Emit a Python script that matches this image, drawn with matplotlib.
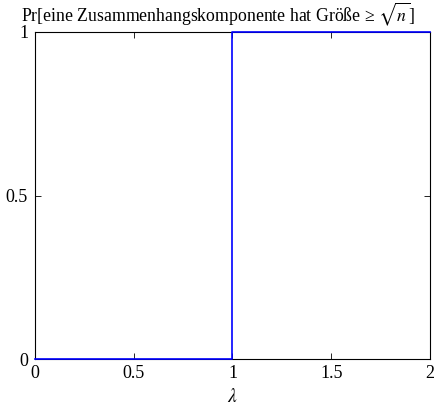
import matplotlib
matplotlib.use("Agg")
from matplotlib import pyplot as plt

plt.rcParams['font.family'] = ['Liberation Serif', 'DejaVu Serif']
plt.rcParams['mathtext.fontset'] = 'stix'

# Daten: Sprungfunktion bei lambda = 1
lam = [0, 1, 1, 2]
prob = [0, 0, 1, 1]
xticks = [0, 0.5, 1, 1.5, 2]
xticklabels = ['0', '0.5', '1', '1.5', '2']
yticks = [0, 0.5, 1]
yticklabels = ['0', '0.5', '1']

fig = plt.figure(figsize=(4.35, 4.12), dpi=100)
ax = fig.add_axes([35 / 435, 1 - 359 / 412, 395 / 435, 327 / 412])

ax.plot(lam, prob, color='#0000ff', linewidth=1.2, clip_on=False, zorder=3)

ax.set_xlim(0, 2)
ax.set_ylim(0, 1)
ax.set_xticks(xticks)
ax.set_xticklabels(xticklabels)
ax.set_yticks(yticks)
ax.set_yticklabels(yticklabels, va='center_baseline')
ax.tick_params(direction='in', top=True, right=True, length=4, width=0.6,
               labelsize=13, pad=4)
ax.tick_params(axis='y', pad=5)
for s in ax.spines.values():
    s.set_linewidth(0.8)

ax.set_xlabel(r'$\lambda$', fontsize=14, labelpad=5)
fig.text(218 / 435, 1 - 21 / 412,
         r'Pr[eine Zusammenhangskomponente hat Größe ≥ $\sqrt{n}$]',
         ha='center', va='baseline', fontsize=12.8)

fig.savefig('out.png', dpi=100)
